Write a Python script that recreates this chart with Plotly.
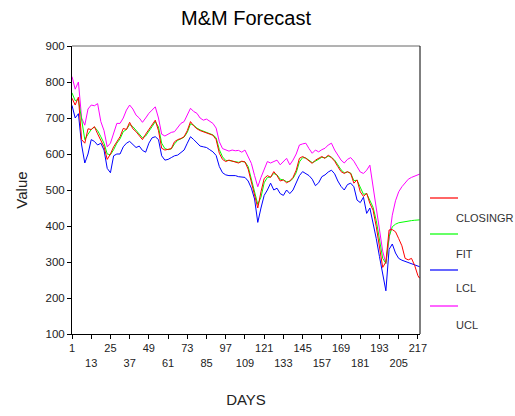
import plotly.graph_objects as go

# Trading days (every other day) and the four series
days = list(range(1, 218, 2)) + [218]

closingr = [755, 736, 758, 640, 630, 670, 668, 676, 656, 640,
            620, 585, 600, 620, 635, 648, 671, 668, 688, 670,
            662, 650, 640, 655, 668, 682, 694, 665, 616, 611,
            612, 615, 634, 640, 643, 648, 665, 690, 678, 670,
            665, 662, 660, 655, 652, 640, 602, 585, 579, 583,
            580, 579, 575, 580, 578, 558, 519, 481, 450, 495,
            532, 540, 535, 551, 540, 525, 528, 520, 525, 535,
            555, 588, 593, 588, 580, 574, 583, 588, 593, 588,
            597, 590, 580, 565, 551, 546, 551, 546, 519, 528,
            495, 482, 491, 463, 444, 398, 340, 285, 300, 389,
            390, 384, 365, 345, 310, 306, 310, 290, 262, 255]

fit = [770, 748, 752, 700, 640, 655, 668, 675, 665, 648,
       630, 600, 598, 612, 630, 642, 662, 668, 682, 676,
       665, 655, 645, 650, 662, 676, 690, 675, 630, 615,
       612, 614, 628, 638, 642, 647, 660, 684, 680, 672,
       667, 663, 660, 656, 653, 645, 612, 592, 582, 582,
       581, 580, 577, 579, 578, 565, 530, 490, 460, 480,
       520, 535, 536, 546, 542, 530, 528, 523, 524, 532,
       548, 578, 590, 589, 583, 576, 580, 586, 591, 589,
       594, 591, 583, 570, 556, 548, 550, 547, 526, 527,
       505, 488, 490, 470, 452, 415, 360, 310, 296, 370,
       398, 405, 409, 411, 413, 414, 415, 416, 417, 417]

lcl = [735, 700, 712, 625, 575, 600, 640, 635, 625, 630,
       611, 560, 548, 595, 600, 600, 620, 630, 635, 625,
       618, 622, 610, 605, 630, 645, 648, 640, 595, 583,
       585, 590, 595, 597, 605, 611, 630, 648, 640, 630,
       622, 620, 618, 612, 606, 596, 565, 548, 542, 540,
       540, 540, 537, 535, 535, 525, 505, 475, 410, 450,
       485, 500, 519, 500, 505, 490, 485, 500, 490, 500,
       519, 540, 551, 545, 540, 530, 512, 520, 537, 542,
       550, 555, 545, 525, 510, 500, 515, 519, 509, 472,
       465, 480, 435, 450, 410, 365, 315, 265, 220, 335,
       350, 325, 310, 305, 302, 298, 295, 291, 288, 287]

ucl = [815, 780, 800, 700, 680, 725, 736, 734, 740, 690,
       665, 620, 630, 660, 685, 685, 700, 722, 736, 725,
       708, 700, 688, 700, 713, 722, 731, 700, 655, 650,
       655, 660, 662, 675, 685, 690, 710, 727, 718, 713,
       700, 694, 697, 690, 685, 672, 634, 615, 611, 608,
       611, 609, 610, 605, 611, 590, 574, 540, 509, 535,
       560, 579, 575, 580, 583, 570, 580, 588, 570, 583,
       600, 625, 628, 630, 615, 602, 611, 606, 612, 616,
       625, 630, 611, 595, 583, 575, 585, 590, 580, 565,
       550, 546, 555, 569, 510, 454, 390, 330, 296, 361,
       430, 470, 495, 509, 520, 530, 535, 539, 543, 544]

series_names = ["CLOSINGR", "FIT", "LCL", "UCL"]
series_colors = ["#ff0000", "#00ff00", "#0000ff", "#ff00ff"]
series_values = [closingr, fit, lcl, ucl]

x_ticks = list(range(1, 218, 12))
x_ticktext = [str(v) if i % 2 == 0 else " <br>" + str(v) for i, v in enumerate(x_ticks)]

FONT = "Arial, 'Liberation Sans', sans-serif"

fig = go.Figure()
# draw bands first, then fit, then the closing prices on top
for idx in [2, 3, 1, 0]:
    fig.add_trace(go.Scatter(
        x=days, y=series_values[idx], mode="lines", name=series_names[idx],
        line=dict(color=series_colors[idx], width=1), showlegend=False,
    ))

# hand-drawn legend: a short line above each label
L, R, T, B = 72, 420, 46, 334
def px_x(p):
    return (p - L) / (R - L)
def px_y(p):
    return (B - p) / (B - T)

shapes = []
annotations = []
swatch_y = [198, 234, 270, 306]
label_y = [218, 254, 288, 325]
for name, color, sy, ly in zip(series_names, series_colors, swatch_y, label_y):
    shapes.append(dict(type="line", xref="paper", yref="paper",
                       x0=px_x(430), x1=px_x(458), y0=px_y(sy), y1=px_y(sy),
                       line=dict(color=color, width=1.2)))
    annotations.append(dict(text=name, xref="paper", yref="paper",
                            x=px_x(454), y=px_y(ly), xanchor="left", yanchor="middle",
                            showarrow=False, font=dict(family=FONT, size=11, color="#333333")))

# frame top edge and right edge
shapes.append(dict(type="line", xref="paper", yref="paper", x0=0, x1=1, y0=1, y1=1,
                   line=dict(color="#666666", width=1)))
shapes.append(dict(type="line", xref="paper", yref="paper", x0=1, x1=1, y0=0, y1=1,
                   line=dict(color="black", width=1)))

fig.update_layout(
    width=515, height=416,
    margin=dict(l=L, r=515 - R, t=T, b=416 - B),
    paper_bgcolor="white", plot_bgcolor="white",
    title=dict(text="M&M Forecast", x=0.5, xref="paper", xanchor="center",
               y=1 - 18 / 416, yref="container", yanchor="middle",
               font=dict(family=FONT, size=20, color="black")),
    font=dict(family=FONT, size=11, color="#222222"),
    shapes=shapes, annotations=annotations,
    xaxis=dict(range=[1, 218.3], tickvals=x_ticks, ticktext=x_ticktext, tickangle=0,
               ticks="outside", ticklen=4, tickcolor="black",
               showline=True, linecolor="black", linewidth=1, mirror=False,
               showgrid=False, zeroline=False,
               tickfont=dict(family=FONT, size=11, color="#222222"),
               title=dict(text="DAYS", font=dict(family=FONT, size=15, color="#222222"), standoff=26)),
    yaxis=dict(range=[100, 900], dtick=100, tick0=100,
               ticks="outside", ticklen=4, tickcolor="black",
               showline=True, linecolor="black", linewidth=1, mirror=False,
               showgrid=False, zeroline=False,
               tickfont=dict(family=FONT, size=11.5, color="#222222"),
               title=dict(text="Value", font=dict(family=FONT, size=15, color="#222222"), standoff=14)),
)

fig.write_html("out.html")
